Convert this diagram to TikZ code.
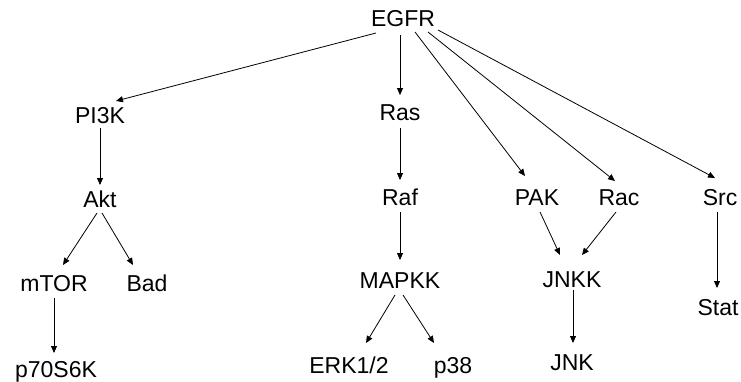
\documentclass[tikz,border=0pt]{standalone}
\usepackage{fontspec}
\setmainfont{Liberation Sans}
\usetikzlibrary{arrows.meta}
\begin{document}
\begin{tikzpicture}[x=1pt,y=-1pt,
  lbl/.style={inner sep=0pt,text height=16.5pt,text depth=0pt,font=\fontsize{23}{27}\selectfont},
  arr/.style={draw=black,line width=0.8pt,-{Triangle[length=7pt,width=6pt]}}]
\useasboundingbox (0,0) rectangle (741,381);
\node[lbl] (EGFR) at (403,18.5) {EGFR};
\node[lbl] (PI3K) at (100,115) {PI3K};
\node[lbl] (Ras) at (400,112) {Ras};
\node[lbl] (Akt) at (100,199.5) {Akt};
\node[lbl] (Raf) at (400,197.5) {Raf};
\node[lbl] (PAK) at (537,197) {PAK};
\node[lbl] (Rac) at (619,197) {Rac};
\node[lbl] (Src) at (720,197) {Src};
\node[lbl] (mTOR) at (54,283) {mTOR};
\node[lbl] (Bad) at (147,283) {Bad};
\node[lbl] (MAPKK) at (400,280) {MAPKK};
\node[lbl] (JNKK) at (572,279) {JNKK};
\node[lbl] (Stat) at (718,307) {Stat};
\node[lbl] (p70) at (56,369) {p70S6K};
\node[lbl] (ERK) at (349,365) {ERK1/2};
\node[lbl] (p38) at (453,365) {p38};
\node[lbl] (JNK) at (572,362) {JNK};

\draw[arr] ([shift={(-27,14.5)}]EGFR.center) -- ([shift={(16,-14)}]PI3K.center);
\draw[arr] ([shift={(-3,16.5)}]EGFR.center) -- ([shift={(0,-17)}]Ras.center);
\draw[arr] ([shift={(12,13.5)}]EGFR.center) -- ([shift={(-12,-21)}]PAK.center);
\draw[arr] ([shift={(25,13.5)}]EGFR.center) -- ([shift={(-4,-16)}]Rac.center);
\draw[arr] ([shift={(35,11.5)}]EGFR.center) -- ([shift={(-5,-19)}]Src.center);
\draw[arr] ([shift={(0,13)}]PI3K.center) -- ([shift={(0,-14.5)}]Akt.center);
\draw[arr] ([shift={(-3,13.5)}]Akt.center) -- ([shift={(9,-18)}]mTOR.center);
\draw[arr] ([shift={(2,13.5)}]Akt.center) -- ([shift={(-14,-18)}]Bad.center);
\draw[arr] ([shift={(0,15)}]mTOR.center) -- ([shift={(-2,-16)}]p70.center);
\draw[arr] ([shift={(0,16)}]Ras.center) -- ([shift={(0,-17.5)}]Raf.center);
\draw[arr] ([shift={(0,14.5)}]Raf.center) -- ([shift={(0,-20)}]MAPKK.center);
\draw[arr] ([shift={(-5,15)}]MAPKK.center) -- ([shift={(17,-22)}]ERK.center);
\draw[arr] ([shift={(3,15)}]MAPKK.center) -- ([shift={(-19,-22)}]p38.center);
\draw[arr] ([shift={(3,15)}]PAK.center) -- ([shift={(-12,-24)}]JNKK.center);
\draw[arr] ([shift={(-3,15)}]Rac.center) -- ([shift={(10,-24)}]JNKK.center);
\draw[arr] ([shift={(1,11)}]JNKK.center) -- ([shift={(1,-19)}]JNK.center);
\draw[arr] ([shift={(-3,15)}]Src.center) -- ([shift={(-1,-19)}]Stat.center);
\end{tikzpicture}
\end{document}
